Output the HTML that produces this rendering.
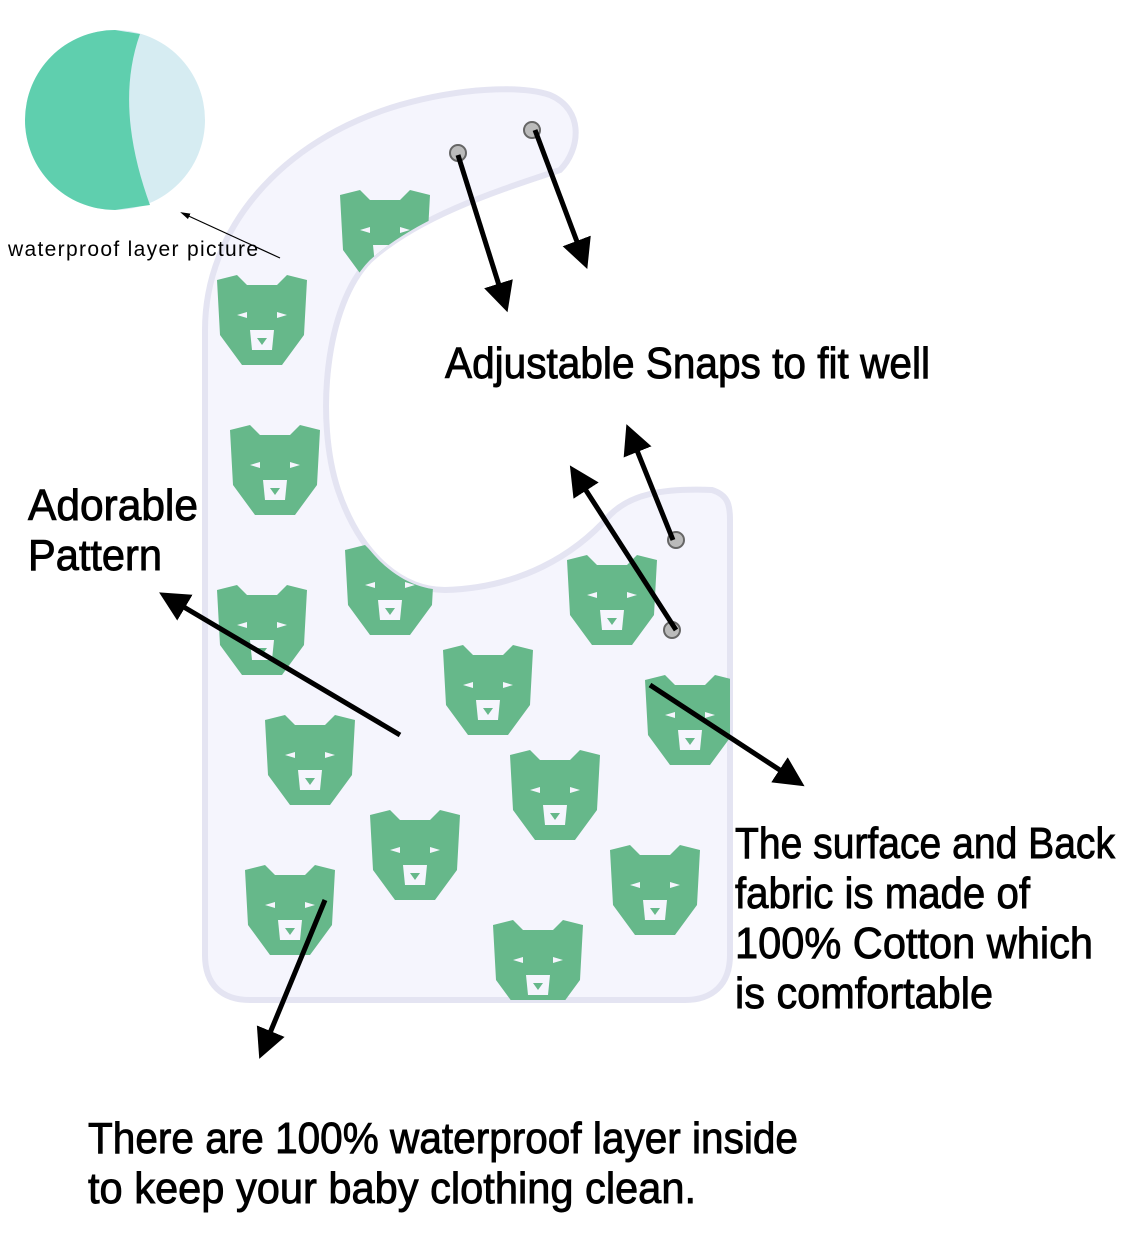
<!DOCTYPE html>
<html><head><meta charset="utf-8"><style>
html,body{margin:0;padding:0;background:#fff;}
svg{display:block}
text{font-family:"Liberation Sans",sans-serif;fill:#000}
.b{stroke:#000;stroke-width:0.9}
</style></head><body>
<svg width="1145" height="1239" viewBox="0 0 1145 1239" xmlns="http://www.w3.org/2000/svg">
<defs>
<clipPath id="bib"><path id="bp" d="M205 330 C205 230 280 140 400 105 C460 88 520 85 550 95 C585 110 580 150 560 170 C500 190 420 215 370 260 C325 305 315 420 338 490 C362 560 405 590 445 590 C520 588 575 555 610 515 C630 495 660 488 712 490 C728 495 730 505 730 520 L730 955 C730 985 712 1000 685 1000 L250 1000 C222 1000 205 985 205 955 Z"/></clipPath>
<marker id="ah" markerWidth="6" markerHeight="6" refX="3" refY="3" orient="auto"><path d="M0 0 L6 3 L0 6 Z" fill="#000"/></marker>
<marker id="ah2" markerWidth="10" markerHeight="10" refX="8" refY="5" orient="auto" markerUnits="userSpaceOnUse"><path d="M0 2 L10 5 L0 8 Z" fill="#000"/></marker>
<g id="bear"><path d="M-45 -40 L-25 -45 L-15 -35 L15 -35 L25 -45 L45 -40 L42 15 L20 45 L-20 45 L-42 15 Z" fill="#66b88a"/><path d="M-12 10 L12 10 L10 30 L-10 30 Z" fill="#f5f5fd"/><path d="M-5 18 L5 18 L0 25 Z" fill="#66b88a"/><path d="M-25 -5 L-15 -8 L-15 -2 Z M25 -5 L15 -8 L15 -2 Z" fill="#f5f5fd"/></g>
</defs>
<circle cx="115" cy="120" r="90" fill="#d6ecf2"/>
<path d="M115 30 A90 90 0 0 0 115 210 L150 205 C130 150 120 90 140 34 Z" fill="#5fcfae"/>
<use href="#bp" fill="#f5f5fd" stroke="#e4e4f2" stroke-width="6"/>
<g clip-path="url(#bib)">
<use href="#bear" x="385" y="235"/><use href="#bear" x="262" y="320"/><use href="#bear" x="275" y="470"/>
<use href="#bear" x="612" y="600"/><use href="#bear" x="488" y="690"/><use href="#bear" x="310" y="760"/>
<use href="#bear" x="555" y="795"/><use href="#bear" x="415" y="855"/><use href="#bear" x="262" y="630"/>
<use href="#bear" x="690" y="720"/><use href="#bear" x="655" y="890"/><use href="#bear" x="290" y="910"/>
<use href="#bear" x="538" y="965"/><use href="#bear" x="390" y="590"/>
</g>
<circle cx="458" cy="153" r="8" fill="#bbb" stroke="#666" stroke-width="2"/>
<circle cx="532" cy="130" r="8" fill="#bbb" stroke="#666" stroke-width="2"/>
<circle cx="676" cy="540" r="8" fill="#bbb" stroke="#666" stroke-width="2"/>
<circle cx="672" cy="630" r="8" fill="#bbb" stroke="#666" stroke-width="2"/>
<g stroke="#000" stroke-width="5" marker-end="url(#ah)">
<line x1="458" y1="155" x2="503" y2="298"/>
<line x1="535" y1="130" x2="582" y2="255"/>
<line x1="673" y1="540" x2="632" y2="438"/>
<line x1="676" y1="630" x2="578" y2="478"/>
<line x1="400" y1="735" x2="172" y2="600"/>
<line x1="650" y1="685" x2="792" y2="778"/>
<line x1="325" y1="900" x2="265" y2="1045"/>
</g>
<line x1="280" y1="258" x2="182" y2="213" stroke="#000" stroke-width="1.2" marker-end="url(#ah2)"/>
<text x="8" y="256" font-size="21" textLength="250">waterproof layer picture</text>
<text class="b" x="445" y="378" font-size="44" textLength="485" lengthAdjust="spacingAndGlyphs">Adjustable Snaps to fit well</text>
<text class="b" x="28" y="520" font-size="44" textLength="170" lengthAdjust="spacingAndGlyphs">Adorable</text>
<text class="b" x="28" y="570" font-size="44" textLength="134" lengthAdjust="spacingAndGlyphs">Pattern</text>
<text class="b" x="735" y="858" font-size="44" textLength="380" lengthAdjust="spacingAndGlyphs">The surface and Back</text>
<text class="b" x="735" y="908" font-size="44" textLength="295" lengthAdjust="spacingAndGlyphs">fabric is made of</text>
<text class="b" x="735" y="958" font-size="44" textLength="358" lengthAdjust="spacingAndGlyphs">100% Cotton which</text>
<text class="b" x="735" y="1008" font-size="44" textLength="258" lengthAdjust="spacingAndGlyphs">is comfortable</text>
<text class="b" x="88" y="1153" font-size="44" textLength="710" lengthAdjust="spacingAndGlyphs">There are 100% waterproof layer inside</text>
<text class="b" x="88" y="1203" font-size="44" textLength="608" lengthAdjust="spacingAndGlyphs">to keep your baby clothing  clean.</text>
</svg>
</body></html>
